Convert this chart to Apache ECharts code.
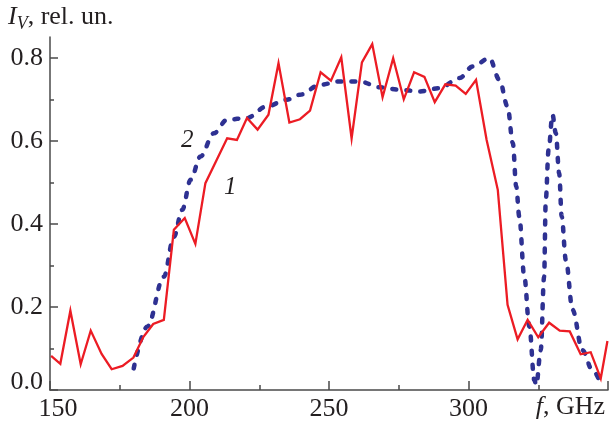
<!DOCTYPE html>
<html>
<head>
<meta charset="utf-8">
<script src="https://cdn.jsdelivr.net/npm/echarts@6/dist/echarts.min.js"></script>
<style>
  html, body { margin: 0; padding: 0; background: #fff; }
  #app { width: 609px; height: 425px; }
</style>
</head>
<body>
<div id="app"></div>
<script>
// curve 1 (solid red)
var redF = [150.4, 153.7, 157.3, 161.0, 164.6, 168.5, 172.1, 176.0, 179.9, 183.5, 187.0, 190.8, 194.4, 198.3,
  202.1, 205.7, 209.6, 213.5, 217.0, 220.6, 224.4, 228.3, 231.9, 235.8, 239.6, 243.2, 247.0, 250.7, 254.4,
  258.1, 261.8, 265.5, 269.2, 273.0, 276.8, 280.5, 284.2, 287.9, 291.7, 295.4, 299.0, 302.7, 306.5, 310.5,
  314.0, 317.6, 321.2, 325.0, 328.9, 332.7, 336.3, 340.2, 343.8, 347.4, 349.8];
var redV = [0.082, 0.063, 0.191, 0.062, 0.143, 0.087, 0.050, 0.058, 0.078, 0.128, 0.159, 0.169, 0.386, 0.414,
  0.352, 0.498, 0.552, 0.606, 0.602, 0.655, 0.627, 0.663, 0.787, 0.644, 0.652, 0.673, 0.765, 0.745, 0.801,
  0.606, 0.789, 0.833, 0.705, 0.799, 0.700, 0.765, 0.754, 0.693, 0.736, 0.733, 0.713, 0.747, 0.602, 0.482,
  0.205, 0.122, 0.169, 0.127, 0.162, 0.143, 0.141, 0.086, 0.091, 0.028, 0.118];

// curve 2 (dashed blue)
var blueF = [180.0, 184.9, 190.8, 194.4, 197.4, 200.4, 203.9, 208.7, 213.5, 220.6, 227.7, 234.9, 239.6, 246.8,
  253.9, 261.0, 268.2, 275.4, 282.5, 289.6, 296.8, 301.5, 307.5, 311.1, 314.0, 315.9, 317.1, 318.2, 320.0,
  321.8, 323.6, 324.3, 325.9, 327.1, 327.7, 328.7, 330.1, 331.3, 332.5, 333.4, 334.9, 337.3, 340.8, 344.4, 347.4];
var blueV = [0.052, 0.153, 0.273, 0.369, 0.434, 0.506, 0.562, 0.618, 0.651, 0.655, 0.683, 0.699, 0.711, 0.735,
  0.743, 0.743, 0.729, 0.723, 0.719, 0.727, 0.751, 0.779, 0.799, 0.747, 0.683, 0.594, 0.490, 0.418, 0.273,
  0.153, 0.024, 0.012, 0.096, 0.273, 0.458, 0.578, 0.663, 0.618, 0.522, 0.418, 0.313, 0.193, 0.096, 0.048, 0.016];

// ticks
var xTicks = [150, 200, 250, 300, 350];
var xLabels = [150, 200, 250, 300];
var yTicks = [0, 0.2, 0.4, 0.6, 0.8];

// curve numbers: [f, value, text]
var curveTags = [[214.6, 0.487, '1'], [199.2, 0.602, '2']];

var serif = '"Liberation Serif", "DejaVu Serif", serif';
var axisColor = '#4a4a4a';
var textColor = '#231f20';

function pairs(xs, ys) {
  return xs.map(function (x, i) { return [x, ys[i]]; });
}

var chart = echarts.init(document.getElementById('app'));

chart.setOption({
  animation: false,
  backgroundColor: '#fff',
  grid: { left: 50, right: 1, top: 37, bottom: 35, containLabel: false },
  xAxis: {
    type: 'value',
    min: 150,
    max: 350,
    interval: 50,
    axisLine: { lineStyle: { color: axisColor, width: 1.5 } },
    axisTick: { inside: true, length: 9, customValues: xTicks, lineStyle: { color: axisColor, width: 1.5 } },
    minorTick: { show: true, splitNumber: 2, length: 5, lineStyle: { color: axisColor, width: 1.5 } },
    splitLine: { show: false },
    axisLabel: {
      customValues: xLabels,
      margin: 6,
      color: textColor,
      fontFamily: serif,
      fontSize: 26,
      formatter: function (v) { return v === 150 ? '{first|150}' : String(v); },
      rich: { first: { fontFamily: serif, fontSize: 26, color: textColor, padding: [0, 0, 0, 16] } }
    }
  },
  yAxis: {
    type: 'value',
    min: 0,
    max: 0.85,
    interval: 0.2,
    axisLine: { lineStyle: { color: axisColor, width: 1.5 } },
    axisTick: { inside: true, length: 8, customValues: yTicks, lineStyle: { color: axisColor, width: 1.5 } },
    minorTick: { show: true, splitNumber: 2, length: 4, lineStyle: { color: axisColor, width: 1.5 } },
    splitLine: { show: false },
    axisLabel: {
      customValues: yTicks,
      margin: 7,
      color: textColor,
      fontFamily: serif,
      fontSize: 26,
      formatter: function (v) { return v === 0 ? '{zero|0.0}' : v.toFixed(1); },
      rich: { zero: { fontFamily: serif, fontSize: 26, color: textColor, padding: [0, 0, 16, 0] } }
    }
  },
  graphic: [
    {
      type: 'text',
      left: 8,
      top: 4,
      style: {
        text: '{i|I}{s|V}{t|, rel. un.}',
        rich: {
          i: { fontFamily: serif, fontStyle: 'italic', fontSize: 26, fill: textColor },
          s: { fontFamily: serif, fontStyle: 'italic', fontSize: 18, fill: textColor, padding: [14, 0, 0, 0] },
          t: { fontFamily: serif, fontSize: 26, fill: textColor }
        }
      }
    },
    {
      type: 'text',
      right: 4,
      top: 394,
      style: {
        text: '{i|f}{t|, GHz}',
        rich: {
          i: { fontFamily: serif, fontStyle: 'italic', fontSize: 26, fill: textColor },
          t: { fontFamily: serif, fontSize: 26, fill: textColor }
        }
      }
    }
  ],
  series: [
    {
      name: '1',
      type: 'line',
      data: pairs(redF, redV),
      showSymbol: false,
      symbol: 'none',
      lineStyle: { color: '#ec1c24', width: 2.3, join: 'miter' },
      z: 3,
      markPoint: {
        symbol: 'circle',
        symbolSize: 1,
        itemStyle: { color: 'rgba(0,0,0,0)' },
        label: {
          show: true,
          position: 'inside',
          fontFamily: serif,
          fontStyle: 'italic',
          fontSize: 25,
          color: textColor,
          formatter: function (p) { return p.name; }
        },
        data: curveTags.map(function (t) { return { name: t[2], coord: [t[0], t[1]] }; })
      }
    },
    {
      name: '2',
      type: 'line',
      data: pairs(blueF, blueV),
      showSymbol: false,
      symbol: 'none',
      smooth: 0.35,
      smoothMonotone: 'x',
      lineStyle: { color: '#2e3192', width: 4.5, type: [4, 10], cap: 'round' },
      z: 2
    }
  ]
});
</script>
</body>
</html>
